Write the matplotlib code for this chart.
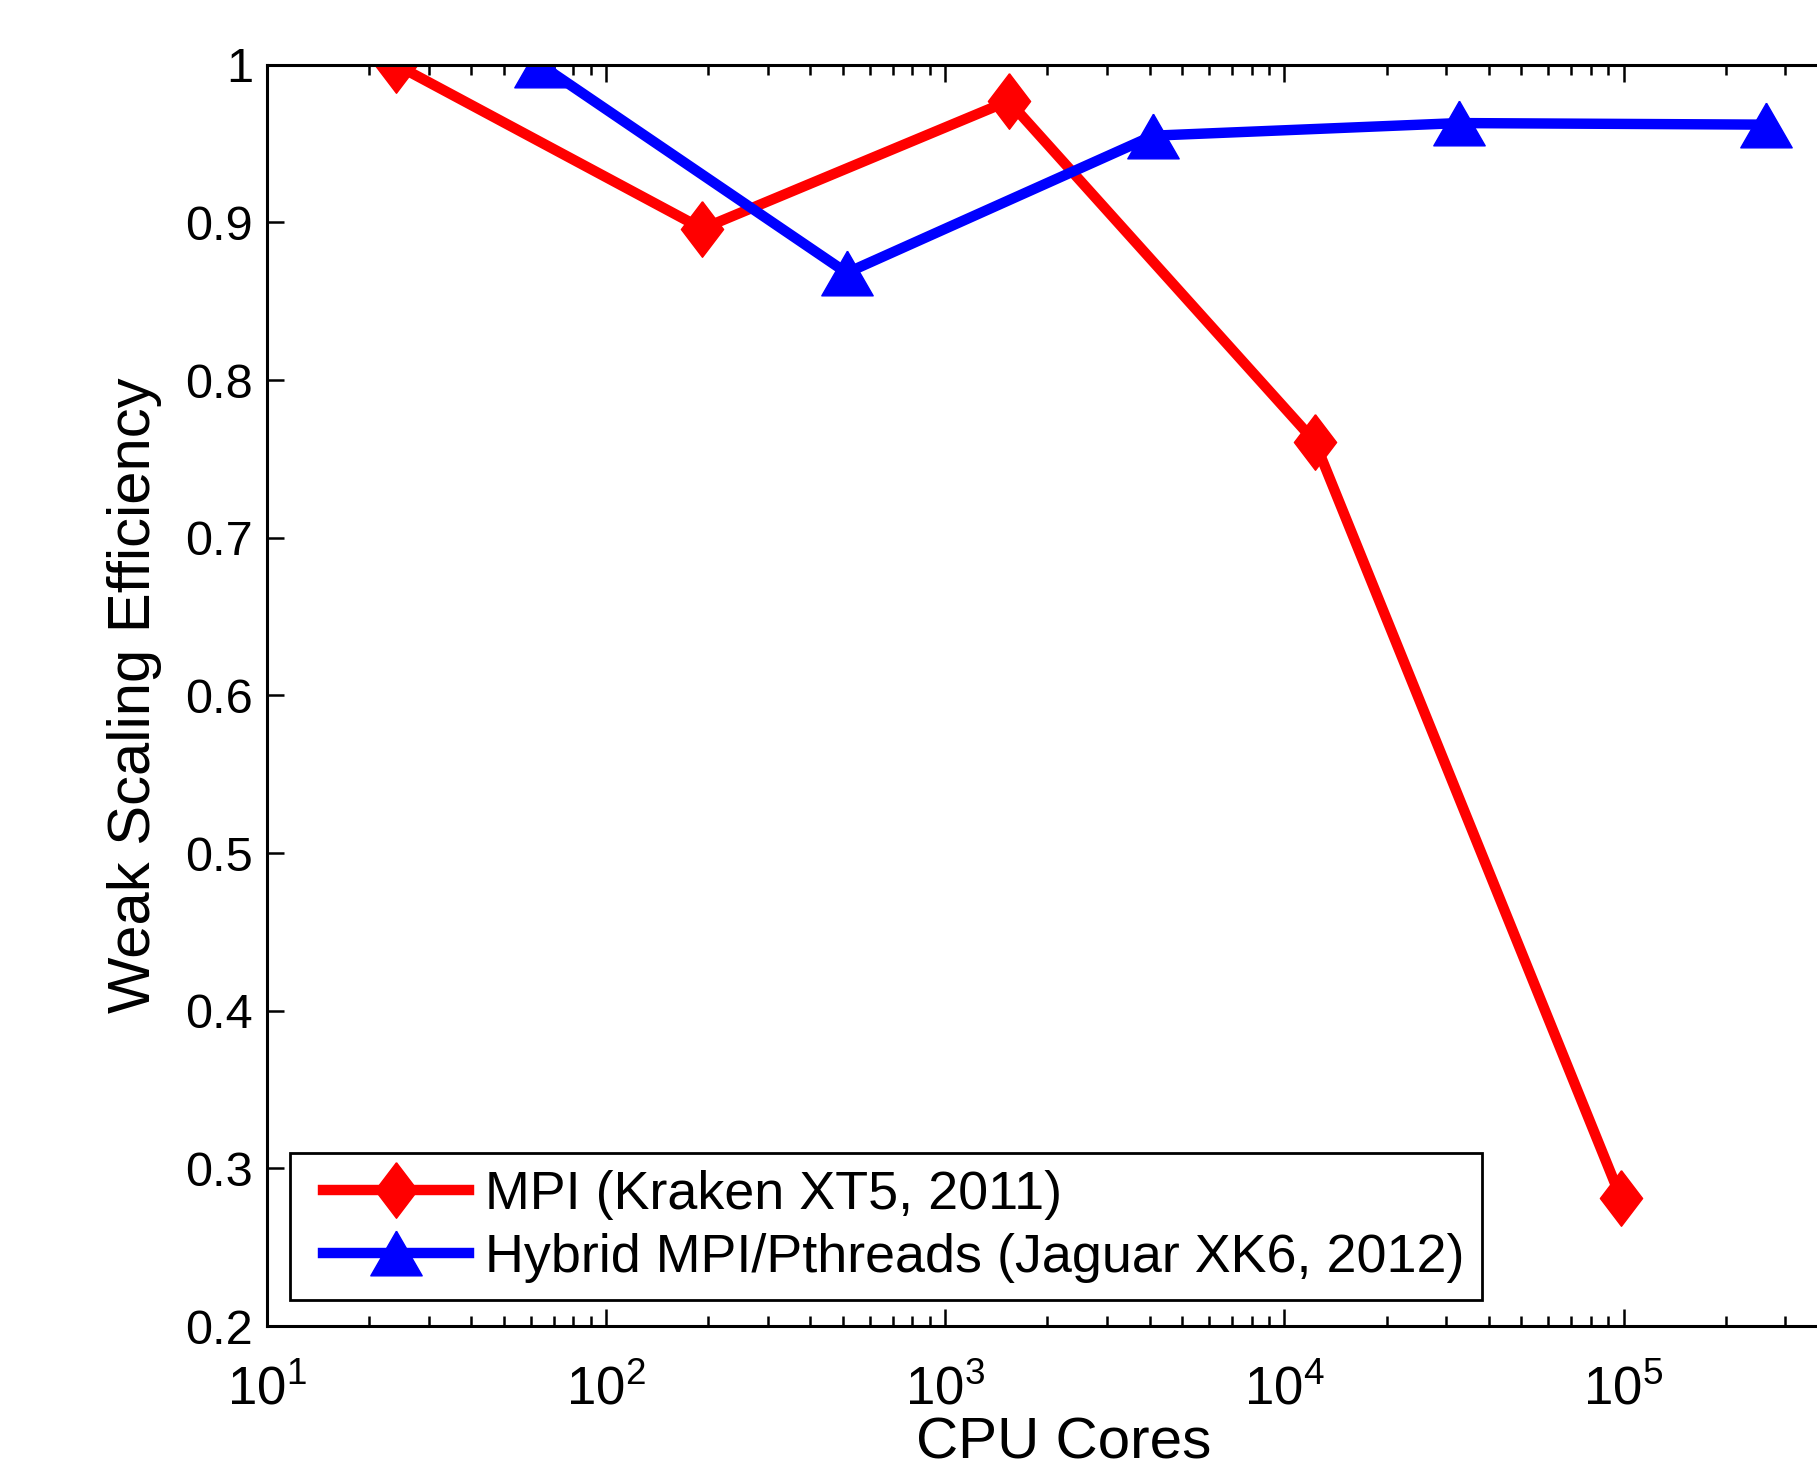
import numpy as np
import matplotlib
matplotlib.use("Agg")
from matplotlib import pyplot as plt
from matplotlib.legend_handler import HandlerLine2D

# data
mpi_cores = [24, 192, 1536, 12288, 98304]
mpi_eff = [1.0, 0.896, 0.977, 0.761, 0.281]
hyb_cores = [64, 512, 4096, 32768, 262144]
hyb_eff = [1.0, 0.868, 0.955, 0.963, 0.962]
labels = ["MPI (Kraken XT5, 2011)", "Hybrid MPI/Pthreads (Jaguar XK6, 2012)"]
yticks = [0.2, 0.3, 0.4, 0.5, 0.6, 0.7, 0.8, 0.9, 1.0]
ytick_labels = ["0.2", "0.3", "0.4", "0.5", "0.6", "0.7", "0.8", "0.9", "1"]

plt.rcParams["font.family"] = ["Liberation Sans", "DejaVu Sans"]
plt.rcParams["mathtext.fontset"] = "custom"
plt.rcParams["mathtext.rm"] = "Liberation Sans"
plt.rcParams["mathtext.default"] = "regular"

# MATLAB-like markers
diamond = [(0, 1), (0.76, 0), (0, -1), (-0.76, 0), (0, 1)]
triangle = [(0, 1), (1.15, -1), (-1.15, -1), (0, 1)]

fig = plt.figure(figsize=(18.17, 14.71), dpi=100)
ax = fig.add_axes([0.147, 0.0985, 0.877, 0.8575])

l1, = ax.plot(mpi_cores, mpi_eff, color="red", lw=7.5, marker=diamond, ms=40,
              label=labels[0])
l2, = ax.plot(hyb_cores, hyb_eff, color="blue", lw=7.5, marker=triangle, ms=37,
              label=labels[1])

ax.set_xscale("log")
ax.set_xlim(10, 5e5)
ax.set_ylim(0.2, 1.0)
ax.set_yticks(yticks)
ax.set_yticklabels(ytick_labels)

for s in ax.spines.values():
    s.set_linewidth(2.2)
ax.tick_params(which="both", direction="in", top=True, right=True, width=1.8)
ax.tick_params(which="major", length=12)
ax.tick_params(axis="x", which="major", pad=28, labelsize=38)
ax.tick_params(axis="y", which="major", pad=10, labelsize=35)
ax.tick_params(which="minor", length=7)

ax.set_xlabel("CPU Cores", fontsize=42, labelpad=1)
ax.set_ylabel("Weak Scaling Efficiency", fontsize=43, labelpad=17)

hm = {l1: HandlerLine2D(xpad=0.28), l2: HandlerLine2D(xpad=0.28)}
leg = ax.legend(loc="lower left", bbox_to_anchor=(0.0145, 0.0205),
                borderaxespad=0, fontsize=38.8, handlelength=3.0,
                handletextpad=0.3, labelspacing=0.24, borderpad=0.32,
                fancybox=False, edgecolor="black", framealpha=1,
                handler_map=hm)
leg.get_frame().set_linewidth(2)

fig.savefig("out.png", dpi=100)
